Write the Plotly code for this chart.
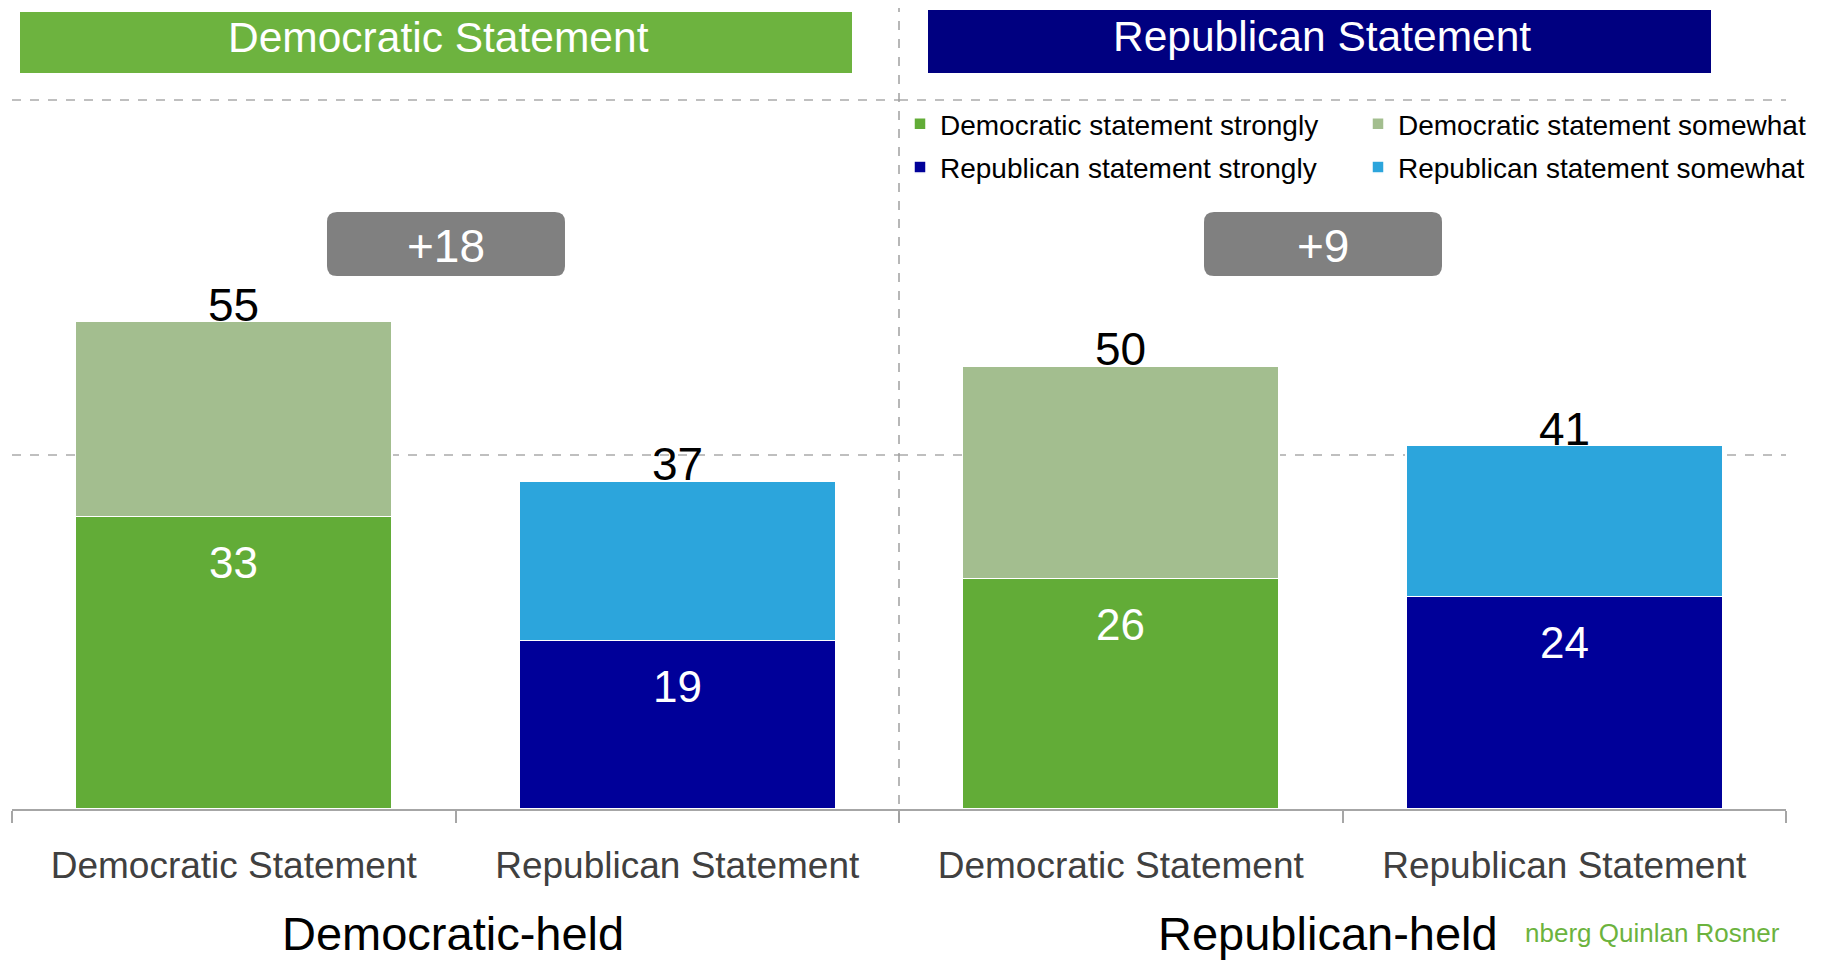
import plotly.graph_objects as go

# ---------------- data ----------------
groups = ["Democratic-held", "Republican-held"]
categories = ["Democratic Statement", "Republican Statement"]
dem_strongly = [33, 26]
dem_total = [55, 50]
rep_strongly = [19, 24]
rep_total = [37, 41]
series_names = [
    "Democratic statement strongly",
    "Democratic statement somewhat",
    "Republican statement strongly",
    "Republican statement somewhat",
]
headers = ["Democratic Statement", "Republican Statement"]
source_text = "nberg Quinlan Rosner"

# ---------------- styling ----------------
FONT = "Liberation Sans, Arial, Helvetica, sans-serif"
C_DS = "#62AC37"
C_DW = "#A3BE8F"
C_RS = "#000099"
C_RW = "#2CA5DC"
C_HDR_D = "#6DB33F"
C_HDR_R = "#000080"
GRID = "#BFBFBF"
AXIS = "#A6A6A6"

OFF = 8  # page body margin
W, H = 1828 - OFF, 962 - OFF
ML, MR, MT, MB = 12 - OFF, 42, 52, 153
PW = W - ML - MR
PH = H - MT - MB
PX_PER_UNIT = 8.86
YMAX = PH / PX_PER_UNIT


def px(x):
    """page pixel x -> paper fraction"""
    return (x - OFF - ML) / PW


def py(y):
    """page pixel y -> paper fraction"""
    return (H - MB - (y - OFF)) / PH


fig = go.Figure()
colors = [C_DS, C_DW, C_RS, C_RW]
legends = ["legend", "legend2", "legend", "legend2"]
for i, g in enumerate(groups):
    xa = "x" if i == 0 else "x2"
    ya = "y" if i == 0 else "y2"
    vals = [
        (categories[0], dem_strongly[i]),
        (categories[0], dem_total[i] - dem_strongly[i]),
        (categories[1], rep_strongly[i]),
        (categories[1], rep_total[i] - rep_strongly[i]),
    ]
    for k, (cat, v) in enumerate(vals):
        fig.add_trace(go.Bar(
            x=[cat], y=[v], name=series_names[k],
            marker=dict(color=colors[k], line=dict(color="white", width=1.5)),
            width=0.713, xaxis=xa, yaxis=ya,
            legend=legends[k], legendgroup=series_names[k],
            showlegend=(i == 0), hoverinfo="skip",
        ))

annotations = []
shapes = []
for i, g in enumerate(groups):
    xa = "x" if i == 0 else "x2"
    ya = "y" if i == 0 else "y2"
    strong = [dem_strongly[i], rep_strongly[i]]
    total = [dem_total[i], rep_total[i]]
    for j, cat in enumerate(categories):
        annotations.append(dict(
            x=cat, y=strong[j], xref=xa, yref=ya, text=str(strong[j]),
            showarrow=False, yshift=-46, xanchor="center", yanchor="middle",
            font=dict(family=FONT, size=44, color="white")))
        annotations.append(dict(
            x=cat, y=total[j], xref=xa, yref=ya, text=str(total[j]),
            showarrow=False, yshift=17, xanchor="center", yanchor="middle",
            font=dict(family=FONT, size=46, color="black")))


def rrect(x0, y0, x1, y1, r):
    pts = [
        ("M", [(x0 + r, y0)]), ("L", [(x1 - r, y0)]), ("Q", [(x1, y0), (x1, y0 + r)]),
        ("L", [(x1, y1 - r)]), ("Q", [(x1, y1), (x1 - r, y1)]),
        ("L", [(x0 + r, y1)]), ("Q", [(x0, y1), (x0, y1 - r)]),
        ("L", [(x0, y0 + r)]), ("Q", [(x0, y0), (x0 + r, y0)]),
    ]
    s = ""
    for cmd, p in pts:
        s += cmd + " ".join(f"{px(a):.5f},{py(b):.5f}" for a, b in p) + " "
    return s + "Z"


def label(x, y, text, size, color, xanchor="center"):
    return dict(x=px(x), y=py(y), xref="paper", yref="paper", text=text,
                showarrow=False, xanchor=xanchor, yanchor="middle",
                font=dict(family=FONT, size=size, color=color))


# header boxes
hdr_boxes = [(20, 12, 852, 73, C_HDR_D), (928, 10, 1711, 73, C_HDR_R)]
for (x0, y0, x1, y1, col), txt in zip(hdr_boxes, headers):
    shapes.append(dict(type="rect", xref="paper", yref="paper",
                       x0=px(x0), x1=px(x1), y0=py(y1), y1=py(y0),
                       fillcolor=col, line=dict(width=0), layer="above"))
    annotations.append(label((x0 + x1) / 2 + 2, (y0 + y1) / 2 - 5, txt, 42.5, "white"))

# difference boxes
diff_boxes = [(327, 212, 565, 276), (1204, 212, 1442, 276)]
for i, (x0, y0, x1, y1) in enumerate(diff_boxes):
    d = dem_total[i] - rep_total[i]
    shapes.append(dict(type="path", xref="paper", yref="paper",
                       path=rrect(x0, y0, x1, y1, 10),
                       fillcolor="#808080", line=dict(width=0), layer="above"))
    annotations.append(label((x0 + x1) / 2, (y0 + y1) / 2 + 2, f"+{d}", 46, "white"))

# vertical separator
shapes.append(dict(type="line", xref="paper", yref="paper",
                   x0=0.5, x1=0.5, y0=py(822), y1=py(0),
                   line=dict(color="#A0A0A0", width=1.5, dash="dash")))

# group labels
for i, g in enumerate(groups):
    cx = [453, 1328][i]
    annotations.append(label(cx, 933, g, 47, "black"))
annotations.append(label(1523, 933, source_text, 26, "#6CB33E", xanchor="left"))

xcommon = dict(type="category", categoryorder="array", categoryarray=categories,
               range=[-0.5, 1.5], showline=True, linecolor=AXIS, linewidth=1.5,
               ticks="outside", tickson="boundaries", ticklen=12, tickcolor=AXIS,
               tickwidth=1.5, ticklabelstandoff=23,
               tickfont=dict(family=FONT, size=37, color="#404040"),
               showgrid=False, zeroline=False, fixedrange=True, automargin=False)
ycommon = dict(range=[0, YMAX], tickvals=[40, 80], showticklabels=False,
               showgrid=True, gridcolor=GRID, gridwidth=1.5, griddash="dash",
               zeroline=False, showline=False, fixedrange=True, automargin=False)

LEG_TOP = 99
fig.update_layout(
    width=W, height=H,
    margin=dict(l=ML, r=MR, t=MT, b=MB, autoexpand=False),
    paper_bgcolor="white", plot_bgcolor="white",
    barmode="stack",
    xaxis=dict(domain=[0, 0.5], **xcommon),
    xaxis2=dict(domain=[0.5, 1], anchor="y2", **xcommon),
    yaxis=dict(domain=[0, 1], anchor="x", **ycommon),
    yaxis2=dict(domain=[0, 1], anchor="x2", **ycommon),
    legend=dict(x=px(900), y=py(LEG_TOP),
                xanchor="left", yanchor="top", orientation="v",
                font=dict(family=FONT, size=28, color="black"),
                bgcolor="rgba(0,0,0,0)", tracegroupgap=4),
    legend2=dict(x=px(1358), y=py(LEG_TOP),
                 xanchor="left", yanchor="top", orientation="v",
                 font=dict(family=FONT, size=28, color="black"),
                 bgcolor="rgba(0,0,0,0)", tracegroupgap=4),
    annotations=annotations,
    shapes=shapes,
    font=dict(family=FONT),
)

fig.write_html("out.html")
